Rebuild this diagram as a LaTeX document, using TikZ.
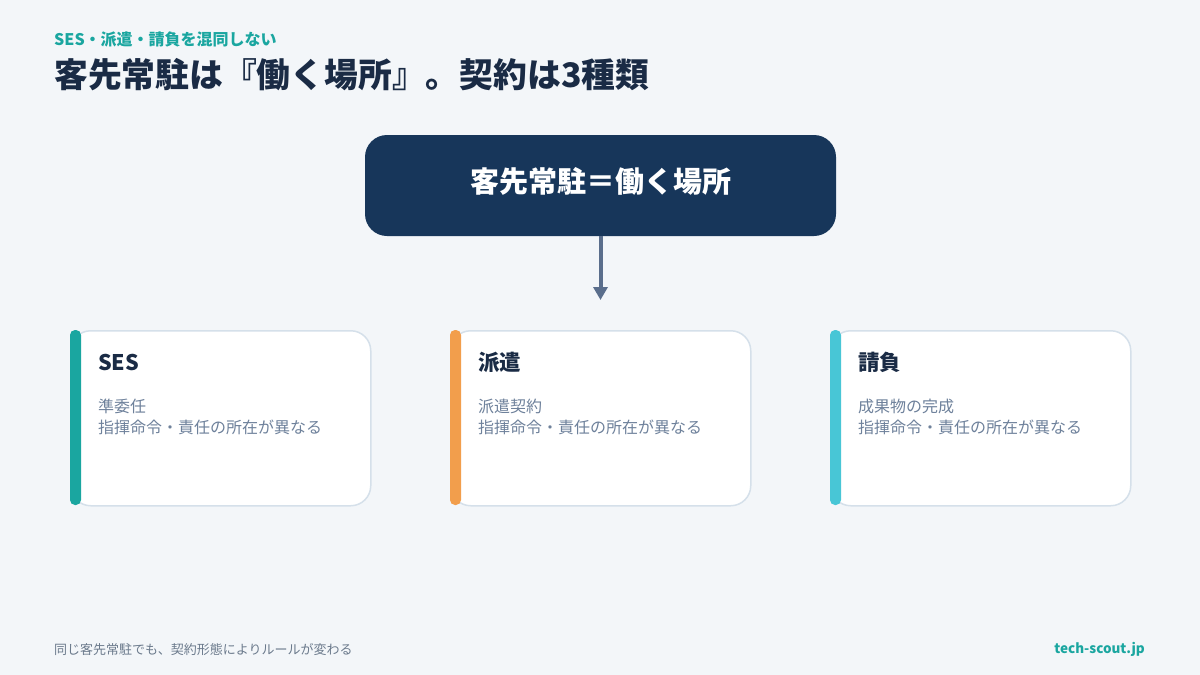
\documentclass[tikz,border=0pt]{standalone}
\usepackage{fontspec}
\setmainfont{Noto Sans CJK JP}
\usetikzlibrary{arrows.meta}
\definecolor{bgc}{HTML}{F3F6F9}
\definecolor{navy}{HTML}{17365A}
\definecolor{ink}{HTML}{1A2B45}
\definecolor{tealc}{HTML}{1AA6A0}
\definecolor{orangec}{HTML}{F29E4C}
\definecolor{cyanc}{HTML}{48C6D6}
\definecolor{bodyc}{HTML}{6E819B}
\definecolor{arrowc}{HTML}{5A6E8C}
\definecolor{borderc}{HTML}{D5E0EA}
\definecolor{footc}{HTML}{6B7A8C}
\tikzset{
  txt/.style={inner sep=0pt, anchor=west},
  card/.style={draw=borderc, line width=1.5pt, fill=white, rounded corners=20pt,
    minimum width=300pt, minimum height=175pt, anchor=north west, inner sep=0pt},
  cardtitle/.style={txt, font=\fontsize{21.5}{25}\selectfont\bfseries, text=ink},
  cardbody/.style={inner sep=0pt, anchor=north west, align=left,
    font=\fontsize{16}{21}\selectfont, text=bodyc},
  conn/.style={draw=arrowc, line width=4pt, -{Triangle[length=13pt,width=14pt]}}
}
\begin{document}
\begin{tikzpicture}[x=1pt,y=-1pt]
\useasboundingbox (0,0) rectangle (1200,675);
\fill[bgc] (0,0) rectangle (1200,675);
% header
\node[txt, font=\fontsize{16}{19}\selectfont\bfseries, text=tealc] (sub) at (54,39) {SES・派遣・請負を混同しない};
\node[txt, font=\fontsize{33.8}{38}\selectfont\bfseries, text=ink] (title) at (54,75) {客先常駐は『働く場所』。契約は3種類};
% top box
\node[fill=navy, rounded corners=22pt, minimum width=471pt, minimum height=101pt, inner sep=0pt] (top) at (600.5,185.5) {};
\node[inner sep=0pt, font=\fontsize{29}{34}\selectfont\bfseries, text=white] (toptext) at (600.5,181) {客先常駐＝働く場所};
\coordinate (arrowend) at (600.5,300);
\draw[conn] (top.south) -- (arrowend);
% cards
\node[card] (ses) at (70,330) {};
\fill[tealc, rounded corners=5pt] (70,330) rectangle (81,505);
\node[cardtitle] (sest) at (98,362) {SES};
\node[cardbody] (sesb) at (98,399) {準委任\\指揮命令・責任の所在が異なる};

\node[card] (haken) at (450,330) {};
\fill[orangec, rounded corners=5pt] (450,330) rectangle (461,505);
\node[cardtitle] (hakent) at (478,362) {派遣};
\node[cardbody] (hakenb) at (478,399) {派遣契約\\指揮命令・責任の所在が異なる};

\node[card] (ukeoi) at (830,330) {};
\fill[cyanc, rounded corners=5pt] (830,330) rectangle (841,505);
\node[cardtitle] (ukeoit) at (858,362) {請負};
\node[cardbody] (ukeoib) at (858,399) {成果物の完成\\指揮命令・責任の所在が異なる};
% footer
\node[txt, font=\fontsize{13}{16}\selectfont, text=footc] (foot) at (54,650) {同じ客先常駐でも、契約形態によりルールが変わる};
\node[inner sep=0pt, anchor=east, font=\fontsize{13.5}{16}\selectfont\bfseries, text=tealc] (site) at (1145,649) {tech-scout.jp};
\end{tikzpicture}
\end{document}
